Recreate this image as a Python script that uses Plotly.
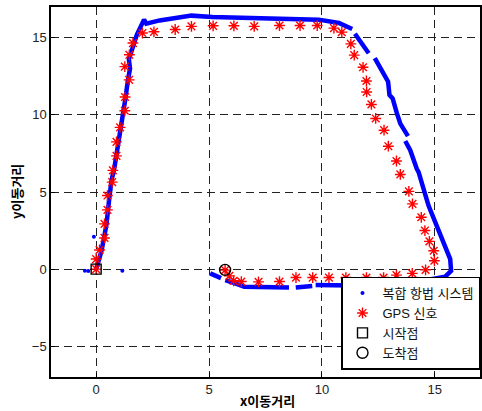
import plotly.graph_objects as go

# GPS signal points (red asterisks)
gps_x = [0.0, 0.0, 0.15, 0.37, 0.37, 0.50, 0.50, 0.71, 0.74, 0.90, 0.90, 1.06, 1.27, 1.28, 1.46, 1.27, 1.47, 1.63,
         2.05, 2.56, 3.50, 4.22, 5.18, 6.10, 7.00, 8.12, 9.03, 9.79, 10.53, 10.88,
         11.28, 11.43, 11.82, 11.97, 11.98, 12.19, 12.38, 12.75, 12.94, 13.30, 13.47, 13.85, 14.01,
         14.40, 14.56, 14.76, 14.95, 14.98, 14.59, 14.00, 13.30, 12.73, 11.97, 11.06, 10.31, 9.59, 8.85,
         8.12, 7.19, 6.43, 6.09, 5.90, 5.71]
gps_y = [0.0, 0.65, 1.24, 2.02, 2.93, 3.84, 4.77, 5.64, 6.40, 7.34, 8.25, 9.19, 10.27, 11.16, 12.27, 13.13, 13.90, 14.66,
         15.31, 15.39, 15.54, 15.74, 15.78, 15.78, 15.74, 15.80, 15.80, 15.80, 15.63, 15.37,
         14.61, 13.88, 13.09, 12.20, 11.49, 10.68, 9.77, 9.01, 7.97, 7.01, 6.14, 5.04, 4.23,
         3.36, 2.50, 1.80, 1.19, 0.54, -0.05, -0.28, -0.39, -0.55, -0.55, -0.55, -0.55, -0.55, -0.55,
         -0.81, -0.83, -0.81, -0.76, -0.44, -0.07]

# Integrated navigation system track (None = gap in the track)
nav_x = [0.0, 0.02, 0.24, 0.38, 0.46, 0.57, 0.68, 0.80, 0.90, 1.00, 1.10, 1.25, 1.30, 1.40, 1.50, 1.45, 1.60, 1.80,
         2.12, 2.22, 2.81, 4.22, 5.15, 6.38, 9.86, 10.75, 11.34, None,
         11.46, 12.07, None,
         12.34, 12.66, 12.93, 12.99, 13.13, 13.32, 13.47, 13.81, None,
         13.69, 13.91, 14.20, 14.28, 14.72, 15.09, 15.13, 15.68, 15.72, 15.45, 14.86, 14.42, 13.84, 12.96, 9.72, None,
         9.57, 8.84, None,
         8.54, 6.56, 6.04, 5.72, None,
         5.53, 5.31, 5.05]
nav_y = [0.0, 0.10, 1.19, 2.28, 2.93, 4.45, 5.75, 6.50, 7.40, 8.30, 9.20, 10.20, 11.10, 12.20, 13.00, 13.60, 14.40, 15.20,
         16.18, 15.92, 16.13, 16.44, 16.35, 16.29, 16.18, 15.96, 15.57, None,
         15.26, 14.00, None,
         13.68, 12.92, 12.16, 11.29, 11.07, 10.10, 9.44, 8.62, None,
         8.31, 7.71, 6.51, 6.29, 4.12, 2.82, 2.50, 0.65, -0.11, -0.50, -0.65, -0.98, -1.15, -1.09, -1.04, None,
         -1.09, -1.20, None,
         -1.20, -1.15, -0.87, -0.72, None,
         -0.59, -0.44, -0.28]

# Isolated navigation samples
nav_dot_x = [-0.10, 1.16, -0.50, -0.35]
nav_dot_y = [2.10, -0.11, -0.11, -0.13]

start_x, start_y = [0.0], [0.0]
end_x, end_y = [5.71], [-0.05]

labels = ["복합 항법 시스템", "GPS 신호", "시작점", "도착점"]
x_title = "x이동거리"
y_title = "y이동거리"
x_ticks = [0, 5, 10, 15]
y_ticks = [-5, 0, 5, 10, 15]

FONT = "Liberation Sans, Arial, Noto Sans CJK KR"

fig = go.Figure()
fig.add_trace(go.Scatter(x=nav_x, y=nav_y, mode="lines", line=dict(color="#0000ff", width=4.5),
                         connectgaps=False, showlegend=False, hoverinfo="skip"))
fig.add_trace(go.Scatter(x=nav_dot_x, y=nav_dot_y, mode="markers", name=labels[0],
                         marker=dict(color="#0000ff", size=4)))
fig.add_trace(go.Scatter(x=gps_x, y=gps_y, mode="markers", name=labels[1],
                         marker=dict(symbol="asterisk-open", size=9, color="#ff0000",
                                     line=dict(color="#ff0000", width=1.4))))
fig.add_trace(go.Scatter(x=start_x, y=start_y, mode="markers", name=labels[2],
                         marker=dict(symbol="square-open", size=10, color="black",
                                     line=dict(color="black", width=1.4))))
fig.add_trace(go.Scatter(x=end_x, y=end_y, mode="markers", name=labels[3],
                         marker=dict(symbol="circle-open", size=11, color="black",
                                     line=dict(color="black", width=1.4))))

axis_common = dict(showline=True, mirror=True, linecolor="black", linewidth=1.5,
                   showgrid=True, gridcolor="#222222", gridwidth=1, griddash="8px,5px",
                   zeroline=False, ticks="inside", ticklen=4, tickcolor="black",
                   automargin=False,
                   tickfont=dict(family=FONT, size=13, color="#222222"))

fig.update_xaxes(range=[-2, 17], tickvals=x_ticks, **axis_common)
fig.update_yaxes(range=[-7, 17], tickvals=y_ticks, **axis_common)

title_font = dict(family="Noto Sans CJK KR", size=13, color="black", weight="bold")
fig.add_annotation(text=x_title, xref="paper", yref="paper", x=0.505, y=0, yshift=-23,
                   xanchor="center", yanchor="middle", showarrow=False, font=title_font)
fig.add_annotation(text=y_title, xref="paper", yref="paper", x=0, y=0.5, xshift=-35,
                   xanchor="center", yanchor="middle", textangle=-90, showarrow=False, font=title_font)

fig.update_layout(
    width=482, height=411,
    margin=dict(l=51, r=2, t=7, b=34, autoexpand=False),
    plot_bgcolor="white", paper_bgcolor="white",
    font=dict(family=FONT, size=13, color="#111111"),
    legend=dict(x=1, y=0.02, xanchor="right", yanchor="bottom",
                bgcolor="white", bordercolor="black", borderwidth=1.5,
                font=dict(family=FONT, size=13, color="#111111"),
                tracegroupgap=0, itemsizing="trace"),
)

fig.write_html("out.html", config={"displayModeBar": False},
               post_script="document.body.style.margin='0';document.body.style.overflow='hidden';")
